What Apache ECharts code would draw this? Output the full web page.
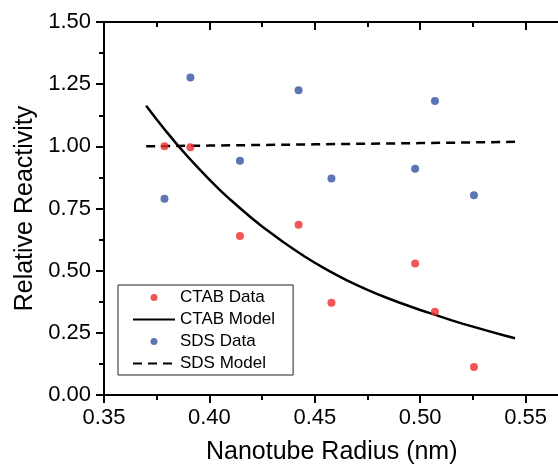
<!DOCTYPE html>
<html>
<head>
<meta charset="utf-8">
<script src="https://cdn.jsdelivr.net/npm/echarts@6/dist/echarts.min.js"></script>
<style>
  html, body { margin: 0; padding: 0; background: #fff; }
  #chart { width: 558px; height: 464px; }
</style>
</head>
<body>
<div id="chart"></div>
<script>
  // radius (nm) of the measured tubes, shared by both surfactants
  var radius = [0.3787, 0.3910, 0.4145, 0.4423, 0.4579, 0.4976, 0.5070, 0.5255]
  var ctabData = [1.000, 0.996, 0.639, 0.685, 0.371, 0.529, 0.335, 0.113]
  var sdsData = [0.789, 1.277, 0.942, 1.226, 0.871, 0.910, 1.182, 0.803]

  // model curves
  var ctabModelX = [0.370, 0.375, 0.380, 0.385, 0.390, 0.395, 0.400, 0.405, 0.410, 0.415,
    0.420, 0.425, 0.430, 0.435, 0.440, 0.445, 0.450, 0.455, 0.460, 0.465, 0.470, 0.475,
    0.480, 0.485, 0.490, 0.495, 0.500, 0.505, 0.510, 0.515, 0.520, 0.525, 0.530, 0.535,
    0.540, 0.545]
  var ctabModelY = [1.163, 1.108, 1.055, 1.004, 0.956, 0.910, 0.866, 0.824, 0.785, 0.748,
    0.712, 0.678, 0.646, 0.615, 0.586, 0.558, 0.532, 0.507, 0.484, 0.462, 0.442, 0.423,
    0.405, 0.388, 0.372, 0.357, 0.342, 0.328, 0.314, 0.300, 0.287, 0.275, 0.263, 0.251,
    0.239, 0.228]
  var sdsModelX = [0.370, 0.400, 0.450, 0.500, 0.545]
  var sdsModelY = [1.000, 1.003, 1.008, 1.013, 1.018]

  var xTicks = [0.35, 0.40, 0.45, 0.50, 0.55]
  var yTicks = [0.00, 0.25, 0.50, 0.75, 1.00, 1.25, 1.50]

  function zip (xs, ys) {
    return xs.map(function (x, i) { return [x, ys[i]] })
  }

  var font = 'Liberation Sans, Arial, Helvetica, sans-serif'
  var noSymbol = { color: 'transparent', borderWidth: 0, opacity: 0 }
  var chart = echarts.init(document.getElementById('chart'))

  chart.setOption({
    animation: false,
    textStyle: { fontFamily: font, color: '#000' },
    // frame runs past the right edge of the picture
    grid: { left: 104, top: 22, bottom: 69, width: 527, containLabel: false, outerBoundsMode: 'none' },
    legend: {
      orient: 'vertical',
      left: 118,
      top: 285,
      padding: [4, 18, 3, 14],
      itemWidth: 42,
      itemHeight: 7,
      itemGap: 5,
      borderColor: '#222',
      borderWidth: 1,
      textStyle: { fontSize: 17, color: '#000', fontFamily: font },
      data: [
        { name: 'CTAB Data' },
        { name: 'CTAB Model', itemStyle: noSymbol },
        { name: 'SDS Data' },
        { name: 'SDS Model', itemStyle: noSymbol }
      ]
    },
    graphic: [{
      type: 'text',
      left: 336 - 130,
      top: 440,
      style: {
        text: 'Nanotube Radius (nm)',
        font: '25px ' + font,
        fill: '#000',
        width: 260,
        align: 'center'
      }
    }],
    xAxis: [{
      type: 'value',
      position: 'bottom',
      min: xTicks[0],
      max: 0.60,
      interval: 0.05,
      axisLine: { lineStyle: { color: '#000', width: 2 } },
      axisTick: { length: 8, lineStyle: { color: '#000', width: 2 } },
      minorTick: { show: true, splitNumber: 2, length: 5, lineStyle: { color: '#000', width: 2 } },
      axisLabel: {
        margin: 12,
        fontSize: 22,
        color: '#000',
        formatter: function (v) { return v.toFixed(2) }
      },
      splitLine: { show: false }
    }, {
      type: 'value',
      position: 'top',
      min: xTicks[0],
      max: 0.60,
      interval: 0.05,
      axisLine: { lineStyle: { color: '#000', width: 2 } },
      axisTick: { inside: true, length: 8, lineStyle: { color: '#000', width: 2 } },
      minorTick: { show: true, splitNumber: 2, length: 5, lineStyle: { color: '#000', width: 2 } },
      axisLabel: { show: false },
      splitLine: { show: false }
    }],
    yAxis: {
      type: 'value',
      min: yTicks[0],
      max: yTicks[yTicks.length - 1],
      interval: 0.25,
      name: 'Relative Reactivity',
      nameLocation: 'middle',
      nameGap: 62,
      nameTextStyle: { fontSize: 25, color: '#000', fontFamily: font },
      axisLine: { show: true, lineStyle: { color: '#000', width: 2 } },
      axisTick: { show: true, length: 8, lineStyle: { color: '#000', width: 2 } },
      minorTick: { show: true, splitNumber: 2, length: 5, lineStyle: { color: '#000', width: 2 } },
      axisLabel: {
        margin: 13,
        fontSize: 22,
        color: '#000',
        formatter: function (v) { return v.toFixed(2) }
      },
      splitLine: { show: false }
    },
    series: [{
      name: 'CTAB Data',
      type: 'scatter',
      data: zip(radius, ctabData),
      symbol: 'circle',
      symbolSize: 8,
      itemStyle: { color: '#ee2a2c' },
      z: 3
    }, {
      name: 'CTAB Model',
      type: 'line',
      data: zip(ctabModelX, ctabModelY),
      showSymbol: false,
      symbol: 'none',
      lineStyle: { color: '#000', width: 2.5 },
      itemStyle: { color: '#000' }
    }, {
      name: 'SDS Data',
      type: 'scatter',
      data: zip(radius, sdsData),
      symbol: 'circle',
      symbolSize: 8,
      itemStyle: { color: '#3452a3' },
      z: 3
    }, {
      name: 'SDS Model',
      type: 'line',
      data: zip(sdsModelX, sdsModelY),
      showSymbol: false,
      symbol: 'none',
      lineStyle: { color: '#000', width: 2.5, type: [9, 6] },
      itemStyle: { color: '#000' }
    }]
  })
</script>
</body>
</html>
